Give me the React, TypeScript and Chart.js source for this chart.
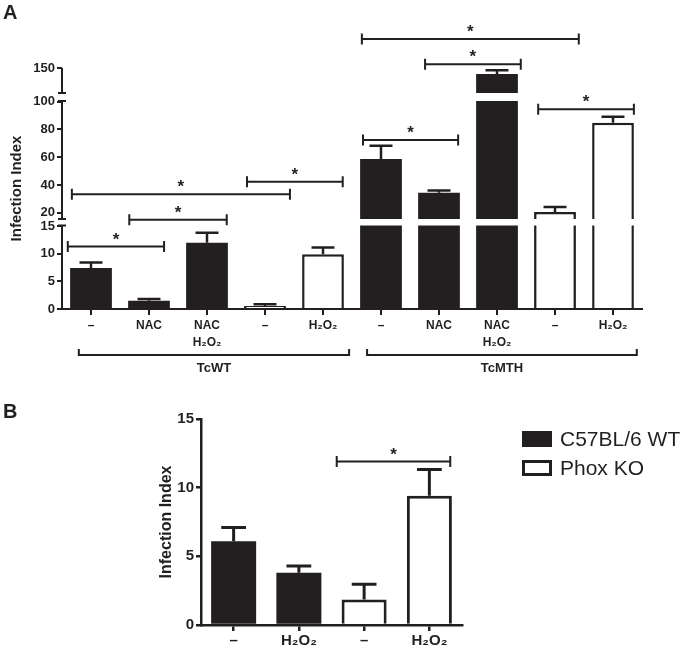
import React, { useEffect, useRef } from 'react';
import { Chart, registerables, LinearScale } from 'chart.js';

Chart.register(...registerables);

const FONT = "'Liberation Sans', Arial, Helvetica, sans-serif";
const INK = '#231f20';

// ---------------- Panel A data ----------------
const aCategories = [['–'], ['NAC'], ['NAC', 'H₂O₂'], ['–'], ['H₂O₂'], ['–'], ['NAC'], ['NAC', 'H₂O₂'], ['–'], ['H₂O₂']];
const aFilled = [7.4, 1.5, 12.0, null, null, 58.7, 34.4, 138, null, null];
const aFilledErr = [1.0, 0.3, 1.8, null, null, 9.6, 1.7, 7.4, null, null];
const aOpen = [null, null, null, 0.55, 9.9, null, null, null, 20.5, 84.9];
const aOpenErr = [null, null, null, 0.3, 1.2, null, null, null, 3.6, 4.3];
const aYTicks = [0, 5, 10, 15, 20, 40, 60, 80, 100, 150];
const aGroups = ['TcWT', 'TcMTH'];
const aGroupFrom = [-0.21, 4.76];
const aGroupTo = [4.45, 9.41];
const aSigFrom = [-0.4, 0.66, -0.33, 2.69, 4.67, 5.76, 4.69, 7.71];
const aSigTo = [1.26, 2.34, 3.43, 4.34, 8.41, 7.41, 6.33, 9.36];
const aSigLevel = [11.3, 15.45, 33.3, 42.3, 208, 157.4, 72.4, 94.5];
// broken y axis: value range of each segment (bottom to top)
const aSegMin = [0, 15.5, 100];
const aSegMax = [15.1, 100.5, 150];

// ---------------- Panel B data ----------------
const bCategories = ['–', 'H₂O₂', '–', 'H₂O₂'];
const bWT = [6.1, 3.8, null, null];
const bWTErr = [1.0, 0.5, null, null];
const bKO = [null, null, 1.86, 9.42];
const bKOErr = [null, null, 1.1, 1.9];
const bYTicks = [0, 5, 10, 15];
const bSigFrom = [1.58];
const bSigTo = [3.32];
const bSigLevel = [11.9];
const bLegend = ['C57BL/6 WT', 'Phox KO'];

// ---------------- broken linear scale ----------------
const A_SEG_HEIGHT = [83.5, 118, 25];
const A_GAP_HEIGHT = [6.5, 8];

function makeBrokenScale(scaleId: string, segMin: number[], segMax: number[], segW: number[], gapW: number[]) {
  const total = segW.reduce((s, v) => s + v, 0) + gapW.reduce((s, v) => s + v, 0);
  class BrokenScale extends LinearScale {
    static id = scaleId;
    static defaults = {};
    segmentBounds() {
      const out: { bottom: number; top: number }[] = [];
      let acc = 0;
      for (let i = 0; i < segW.length; i++) {
        out.push({
          bottom: (this as any).getPixelForDecimal(acc / total),
          top: (this as any).getPixelForDecimal((acc + segW[i]) / total),
        });
        acc += segW[i] + (i < gapW.length ? gapW[i] : 0);
      }
      return out;
    }
    getPixelForValue(value: any) {
      if (value === null || value === undefined || Number.isNaN(+value)) return NaN;
      const v = +value;
      let acc = 0;
      for (let i = 0; i < segMin.length; i++) {
        if (i > 0 && v < segMin[i]) {
          const g = gapW[i - 1];
          const t = Math.min(1, Math.max(0, (v - segMax[i - 1]) / (segMin[i] - segMax[i - 1])));
          return (this as any).getPixelForDecimal((acc - g + g * t) / total);
        }
        if (v <= segMax[i] || i === segMin.length - 1) {
          return (this as any).getPixelForDecimal(
            (acc + ((v - segMin[i]) / (segMax[i] - segMin[i])) * segW[i]) / total
          );
        }
        acc += segW[i] + gapW[i];
      }
      return NaN;
    }
  }
  return BrokenScale;
}

const BrokenA = makeBrokenScale('brokenA', aSegMin, aSegMax, A_SEG_HEIGHT, A_GAP_HEIGHT);
Chart.register(BrokenA as any);

// ---------------- drawing helpers ----------------
function drawErrorBars(chart: any, capFrac: number, lw: number) {
  const { ctx } = chart;
  const y = chart.scales.y;
  chart.data.datasets.forEach((ds: any, di: number) => {
    const meta = chart.getDatasetMeta(di);
    meta.data.forEach((bar: any, i: number) => {
      const v = ds.data[i];
      const e = ds.errors ? ds.errors[i] : null;
      if (v == null || e == null) return;
      const p = bar.getProps(['x', 'y', 'width'], true);
      const top = y.getPixelForValue(v + e);
      const half = (p.width * capFrac) / 2;
      ctx.save();
      ctx.strokeStyle = INK;
      ctx.lineWidth = lw;
      ctx.beginPath();
      ctx.moveTo(p.x, p.y);
      ctx.lineTo(p.x, top);
      ctx.moveTo(p.x - half, top);
      ctx.lineTo(p.x + half, top);
      ctx.stroke();
      ctx.restore();
    });
  });
}

function drawSig(chart: any, from: number[], to: number[], level: number[], starSize: number) {
  const { ctx } = chart;
  const x = chart.scales.x;
  const y = chart.scales.y;
  ctx.save();
  ctx.strokeStyle = INK;
  ctx.fillStyle = INK;
  ctx.lineWidth = 2;
  for (let i = 0; i < from.length; i++) {
    const x1 = x.getPixelForValue(from[i]);
    const x2 = x.getPixelForValue(to[i]);
    const yy = y.getPixelForValue(level[i]);
    ctx.beginPath();
    ctx.moveTo(x1, yy);
    ctx.lineTo(x2, yy);
    ctx.moveTo(x1, yy - 5.5);
    ctx.lineTo(x1, yy + 5.5);
    ctx.moveTo(x2, yy - 5.5);
    ctx.lineTo(x2, yy + 5.5);
    ctx.stroke();
    ctx.font = `bold ${starSize}px ${FONT}`;
    ctx.textAlign = 'center';
    ctx.textBaseline = 'alphabetic';
    ctx.fillText('*', (x1 + x2) / 2, yy - 2);
  }
  ctx.restore();
}

const panelAPlugin = {
  id: 'panelAExtras',
  afterDatasetsDraw(chart: any) {
    const { ctx, chartArea } = chart;
    const y = chart.scales.y;
    const x = chart.scales.x;
    const bounds = y.segmentBounds();
    // white breaks through the bars
    ctx.save();
    ctx.fillStyle = '#fff';
    for (let i = 0; i < bounds.length - 1; i++) {
      const bot = bounds[i].top;
      const top = bounds[i + 1].bottom;
      ctx.fillRect(chartArea.left + 2, top, chartArea.right - chartArea.left, bot - top);
    }
    // broken y axis line
    ctx.strokeStyle = INK;
    ctx.lineWidth = 2;
    const ax = chartArea.left;
    bounds.forEach((b: any, i: number) => {
      ctx.beginPath();
      ctx.moveTo(ax, i === 0 ? chartArea.bottom + 1 : b.bottom);
      ctx.lineTo(ax, b.top);
      if (i < bounds.length - 1) {
        ctx.moveTo(ax - 4, b.top);
        ctx.lineTo(ax + 4, b.top);
      }
      if (i > 0) {
        ctx.moveTo(ax - 4, b.bottom);
        ctx.lineTo(ax + 4, b.bottom);
      }
      ctx.stroke();
    });
    ctx.restore();

    drawErrorBars(chart, 0.55, 2.5);
    drawSig(chart, aSigFrom, aSigTo, aSigLevel, 17);

    // group brackets under the axis
    ctx.save();
    ctx.strokeStyle = INK;
    ctx.fillStyle = INK;
    ctx.lineWidth = 2;
    const gy = chartArea.bottom + 46;
    ctx.font = `bold 13px ${FONT}`;
    ctx.textAlign = 'center';
    ctx.textBaseline = 'middle';
    for (let i = 0; i < aGroups.length; i++) {
      const x1 = x.getPixelForValue(aGroupFrom[i]);
      const x2 = x.getPixelForValue(aGroupTo[i]);
      ctx.beginPath();
      ctx.moveTo(x1, gy - 6);
      ctx.lineTo(x1, gy);
      ctx.lineTo(x2, gy);
      ctx.lineTo(x2, gy - 6);
      ctx.stroke();
      ctx.fillText(aGroups[i], (x1 + x2) / 2, gy + 13);
    }
    // panel letter
    ctx.font = `bold 20px ${FONT}`;
    ctx.textAlign = 'left';
    ctx.textBaseline = 'alphabetic';
    ctx.fillText('A', 3, 19);
    ctx.restore();
  },
};

const panelBPlugin = {
  id: 'panelBExtras',
  afterDatasetsDraw(chart: any) {
    const { ctx, chartArea } = chart;
    drawErrorBars(chart, 0.55, 3);
    drawSig(chart, bSigFrom, bSigTo, bSigLevel, 17);
    // legend
    ctx.save();
    const lx = chartArea.right + 60;
    const rows = [chartArea.top + 20, chartArea.top + 49];
    chart.data.datasets.forEach((ds: any, i: number) => {
      const cy = rows[i];
      if (i === 0) {
        ctx.fillStyle = ds.backgroundColor;
        ctx.fillRect(lx, cy - 8, 30, 16);
      } else {
        ctx.strokeStyle = ds.borderColor;
        ctx.lineWidth = 3;
        ctx.strokeRect(lx + 1.5, cy - 6.5, 27, 13);
      }
      ctx.fillStyle = INK;
      ctx.font = `21px ${FONT}`;
      ctx.textAlign = 'left';
      ctx.textBaseline = 'middle';
      ctx.fillText(ds.label, lx + 38, cy + 1);
    });
    ctx.fillStyle = INK;
    ctx.font = `bold 20px ${FONT}`;
    ctx.textBaseline = 'alphabetic';
    ctx.fillText('B', 3, 23);
    ctx.restore();
  },
};

function configA(): any {
  return {
    type: 'bar',
    data: {
      labels: aCategories,
      datasets: [
        { label: 'filled', data: aFilled, errors: aFilledErr, backgroundColor: INK, borderColor: INK, borderWidth: 0 },
        { label: 'open', data: aOpen, errors: aOpenErr, backgroundColor: '#ffffff', borderColor: INK, borderWidth: 2.5 },
      ],
    },
    options: {
      animation: false,
      responsive: false,
      events: [],
      layout: { padding: { top: 68, right: 40, left: 0, bottom: 0 } },
      plugins: { legend: { display: false }, tooltip: { enabled: false } },
      datasets: { bar: { grouped: false, barPercentage: 0.72, categoryPercentage: 1 } },
      scales: {
        x: {
          type: 'category',
          offset: true,
          grid: { display: true, offset: false, drawOnChartArea: false, drawTicks: true, tickLength: 6, color: INK, lineWidth: 2 },
          border: { display: true, color: INK, width: 2 },
          ticks: { font: { family: FONT, size: 12, weight: 'bold', lineHeight: 1.35 }, color: INK, padding: 3, maxRotation: 0, autoSkip: false },
          afterFit: (s: any) => { s.height = 91; },
        },
        y: {
          type: 'brokenA',
          min: 0,
          max: 150,
          afterBuildTicks: (s: any) => { s.ticks = aYTicks.map((v) => ({ value: v })); },
          grid: { display: true, drawOnChartArea: false, drawTicks: true, tickLength: 5, color: INK, lineWidth: 2 },
          border: { display: false },
          ticks: { autoSkip: false, font: { family: FONT, size: 13, weight: 'bold' }, color: INK, padding: 2, callback: (v: any) => String(v) },
          title: { display: true, text: 'Infection Index', font: { family: FONT, size: 15, weight: 'bold' }, color: INK, padding: { top: 8, bottom: 0 } },
          afterFit: (s: any) => { s.width = 62; },
        },
      },
    },
    plugins: [panelAPlugin],
  };
}

function configB(): any {
  return {
    type: 'bar',
    data: {
      labels: bCategories,
      datasets: [
        { label: bLegend[0], data: bWT, errors: bWTErr, backgroundColor: INK, borderColor: INK, borderWidth: 0 },
        { label: bLegend[1], data: bKO, errors: bKOErr, backgroundColor: '#ffffff', borderColor: INK, borderWidth: 3 },
      ],
    },
    options: {
      animation: false,
      responsive: false,
      events: [],
      layout: { padding: { top: 24, right: 220, left: 140, bottom: 0 } },
      plugins: { legend: { display: false }, tooltip: { enabled: false } },
      datasets: { bar: { grouped: false, barPercentage: 0.69, categoryPercentage: 1 } },
      scales: {
        x: {
          type: 'category',
          offset: true,
          grid: { display: true, offset: false, drawOnChartArea: false, drawTicks: true, tickLength: 6, color: INK, lineWidth: 2.5 },
          border: { display: true, color: INK, width: 2.5 },
          ticks: { font: { family: FONT, size: 15, weight: 'bold' }, color: INK, padding: 1, maxRotation: 0, autoSkip: false },
          afterFit: (s: any) => { s.height = 27; },
        },
        y: {
          type: 'linear',
          min: 0,
          max: 15,
          afterBuildTicks: (s: any) => { s.ticks = bYTicks.map((v) => ({ value: v })); },
          grid: { display: true, drawOnChartArea: false, drawTicks: true, tickLength: 5, color: INK, lineWidth: 2.5 },
          border: { display: true, color: INK, width: 2.5 },
          ticks: { autoSkip: false, font: { family: FONT, size: 15, weight: 'bold' }, color: INK, padding: 2, callback: (v: any) => String(v) },
          title: { display: true, text: 'Infection Index', font: { family: FONT, size: 16, weight: 'bold' }, color: INK, padding: { top: 17, bottom: 0 } },
          afterFit: (s: any) => { s.width = 61; },
        },
      },
    },
    plugins: [panelBPlugin],
  };
}

export default function App() {
  const refA = useRef<HTMLCanvasElement>(null);
  const refB = useRef<HTMLCanvasElement>(null);
  useEffect(() => {
    const a = new Chart(refA.current as HTMLCanvasElement, configA());
    const b = new Chart(refB.current as HTMLCanvasElement, configB());
    return () => {
      a.destroy();
      b.destroy();
    };
  }, []);
  return (
    <div style={{ position: 'absolute', left: 0, top: 0, width: 682, height: 652, background: '#ffffff', overflow: 'hidden' }}>
      <canvas ref={refA} width={682} height={400} style={{ position: 'absolute', left: 0, top: 0 }} />
      <canvas ref={refB} width={682} height={257} style={{ position: 'absolute', left: 0, top: 395 }} />
    </div>
  );
}
